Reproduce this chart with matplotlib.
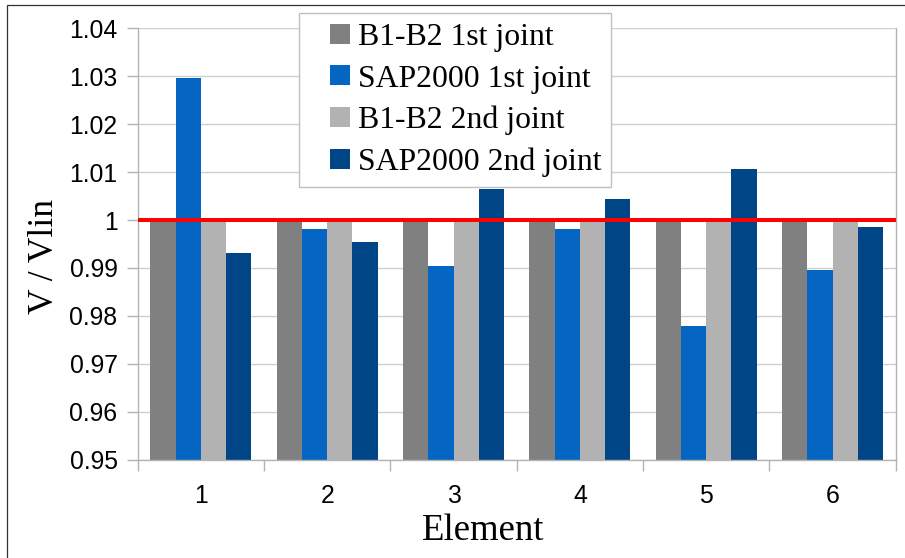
import numpy as np
import matplotlib
matplotlib.use('Agg')
import matplotlib.pyplot as plt
from matplotlib.patches import Rectangle
from matplotlib.legend_handler import HandlerPatch
from matplotlib.ticker import FuncFormatter, MultipleLocator, FixedLocator

# data
elements = ['1', '2', '3', '4', '5', '6']
b1b2_1st = [1.0, 1.0, 1.0, 1.0, 1.0, 1.0]
sap_1st = [1.0296, 0.9981, 0.9904, 0.9981, 0.9779, 0.9896]
b1b2_2nd = [1.0, 1.0, 1.0, 1.0, 1.0, 1.0]
sap_2nd = [0.9931, 0.9954, 1.0065, 1.0044, 1.0106, 0.9985]

series_names = ['B1-B2 1st joint', 'SAP2000 1st joint', 'B1-B2 2nd joint', 'SAP2000 2nd joint']
series_colors = ['#808080', '#0565c2', '#b2b2b2', '#004586']

W, H = 905, 558
fig = plt.figure(figsize=(W / 100, H / 100), dpi=100)
ax = fig.add_axes([137.7 / W, 1 - 460 / H, (895.7 - 137.7) / W, (460 - 28) / H])

# bars
x = np.arange(len(elements))
width = 0.2
all_series = [b1b2_1st, sap_1st, b1b2_2nd, sap_2nd]
bars = []
for i, (vals, name, col) in enumerate(zip(all_series, series_names, series_colors)):
    b = ax.bar(x + (i - 1.5) * width, vals, width, color=col, label=name, zorder=2)
    bars.append(b)

# reference line at 1
ax.axhline(1.0, color='#ff0000', lw=2.9, zorder=3)

ax.set_xlim(-0.5, len(elements) - 0.5)
ax.set_ylim(0.95, 1.04)

# axes style
ax.yaxis.set_major_locator(MultipleLocator(0.01))
ax.yaxis.set_major_formatter(FuncFormatter(lambda v, p: '%g' % round(v, 4)))
ax.grid(axis='y', color='#d0d0d0', lw=1.0, zorder=0)
ax.set_axisbelow(True)
for s in ['left', 'right', 'bottom']:
    ax.spines[s].set_color('#b3b3b3')
    ax.spines[s].set_linewidth(1.0)
ax.spines['top'].set_visible(False)

ax.set_xticks(x)
ax.set_xticklabels(elements)
ax.xaxis.set_minor_locator(FixedLocator(np.arange(-0.5, len(elements), 1.0)))
ax.tick_params(axis='x', which='major', length=0, pad=17)
ax.tick_params(axis='x', which='minor', length=8, color='#b3b3b3', width=1.0)
ax.tick_params(axis='y', length=8, color='#b3b3b3', width=1.0, pad=6.5)
for lab in ax.get_xticklabels() + ax.get_yticklabels():
    lab.set_fontfamily('Liberation Sans')
    lab.set_fontsize(17.8)

# axis titles
fig.text(53 / W, 1 - 256 / H, 'V / Vlin', rotation=90, ha='center', va='baseline',
         rotation_mode='anchor', family='Liberation Serif', fontsize=25.6)
fig.text(483 / W, 1 - 540 / H, 'Element', ha='center', va='baseline',
         family='Liberation Serif', fontsize=26.5)


# legend with small squares placed right next to the text
def square_patch(legend, orig_handle, xdescent, ydescent, width, height, fontsize):
    s = 14.4
    return Rectangle((-xdescent + width - s, -ydescent + (height - s) / 2), s, s)


handles = [b.patches[0] for b in bars]
leg = fig.legend(handles=handles, labels=series_names, loc='upper left',
                 bbox_to_anchor=(299 / W, 1 - 13.3 / H), bbox_transform=fig.transFigure,
                 borderaxespad=0, prop={'family': 'Liberation Serif', 'size': 22.9},
                 handlelength=1.31, handleheight=0.7, handletextpad=0.25,
                 labelspacing=0.385, borderpad=0.3, fancybox=False, framealpha=1,
                 edgecolor='#c0c0c0',
                 handler_map={Rectangle: HandlerPatch(patch_func=square_patch)})
leg.get_frame().set_linewidth(1.0)

# outer frame (only top and left edges are inside the image)
fig.patches.append(Rectangle((7 / W, -0.1), 1.2, 1.1 - 5.5 / H, transform=fig.transFigure,
                             fill=False, edgecolor='#333333', lw=0.9))

fig.savefig('out.png', dpi=100)
